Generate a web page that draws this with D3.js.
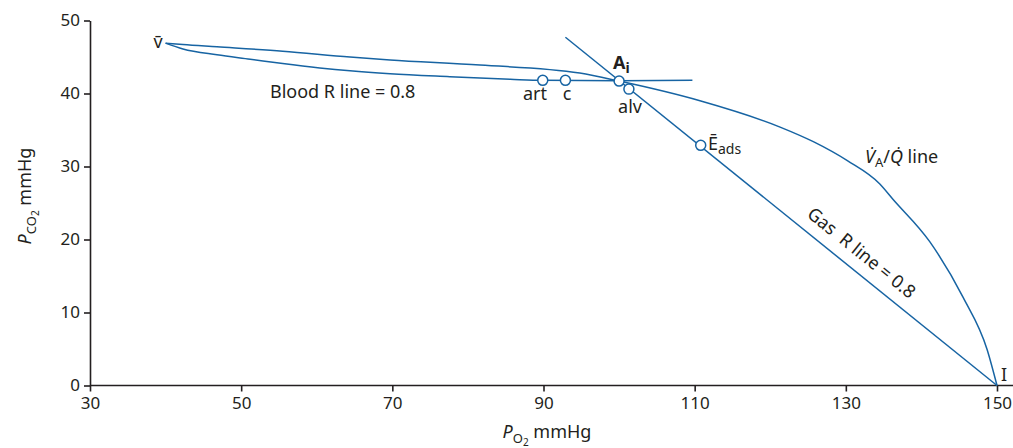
<!DOCTYPE html>
<html>
<head>
<meta charset="utf-8">
<script src="https://cdn.jsdelivr.net/npm/d3@7/dist/d3.min.js"></script>
<style>
  body { margin: 0; background: #fff; }
  svg text { font-family: "Noto Sans", sans-serif; fill: #231f20; }
</style>
</head>
<body>
<div class="chart"></div>
<script>
// ticks
const xTicks = [30, 50, 70, 90, 110, 130, 150];
const yTicks = [0, 10, 20, 30, 40, 50];

// blood R line (lower branch from mixed venous point, then flat through art / c / Ai)
const bloodRLine = [
  [40, 46.9], [42.3, 46.1], [46.8, 45.3], [51.2, 44.7], [55.5, 44.1], [60.4, 43.5],
  [64.4, 43.1], [69.7, 42.7], [77.6, 42.3], [85.6, 41.95], [89.9, 41.8], [100, 41.75], [109.7, 41.8]
];

// VA/Q line: upper branch from v-bar through Ai down to inspired point I
const vaqLine = [
  [40, 46.9], [42.3, 46.7], [46.8, 46.4], [55.5, 45.8], [64.4, 45.0], [69.7, 44.6],
  [81.6, 43.9], [94.8, 42.8], [100, 41.7], [110.7, 39.0], [121.3, 35.4], [125.7, 33.4],
  [130.2, 30.8], [134.5, 27.6], [136.2, 25.55], [141.1, 19.7],
  [145.5, 12.1], [148.7, 4.9], [150, 0]
];

// gas R line = 0.8 (straight through I and Ai)
const gasRLine = [[92.9, 47.7], [150, 0]];

// open circle markers
const pointNames = ["art", "c", "Ai", "alv", "Eads"];
const pointPO2 = [89.9, 92.9, 100, 101.3, 110.8];
const pointPCO2 = [41.8, 41.8, 41.7, 40.6, 32.9];

const svgWidth = 1013, svgHeight = 448;
const blue = "#1764a3";

const svg = d3.select(".chart").append("svg")
  .attr("width", svgWidth)
  .attr("height", svgHeight);

const x = d3.scaleLinear().domain([30, 150]).range([90, 997]);
const y = d3.scaleLinear().domain([0, 50]).range([385.5, 20.5]);

// axes
const xAxis = svg.append("g")
  .attr("transform", `translate(0, ${y(0)})`)
  .call(d3.axisBottom(x).tickValues(xTicks).tickSize(6).tickSizeOuter(0).tickPadding(5));
xAxis.select(".domain").attr("d", `M${x(30)},0H1013`);

const yAxis = svg.append("g")
  .attr("transform", `translate(${x(30)}, 0)`)
  .call(d3.axisLeft(y).tickValues(yTicks).tickSize(6).tickSizeOuter(0).tickPadding(4));

svg.selectAll(".tick text").attr("font-size", 17).attr("fill", "#231f20")
  .style("font-family", "'Noto Sans', sans-serif");
svg.selectAll(".domain, .tick line").attr("stroke", "#231f20").attr("stroke-width", 1.6);

// curves
const line = d3.line()
  .x(d => x(d[0]))
  .y(d => y(d[1]))
  .curve(d3.curveMonotoneX);

[bloodRLine, vaqLine, gasRLine].forEach(data => {
  svg.append("path")
    .datum(data)
    .attr("d", line)
    .attr("fill", "none")
    .attr("stroke", blue)
    .attr("stroke-width", 1.5);
});

// markers
svg.selectAll("circle.pt")
  .data(pointNames)
  .enter()
  .append("circle")
  .attr("class", "pt")
  .attr("cx", (d, i) => x(pointPO2[i]))
  .attr("cy", (d, i) => y(pointPCO2[i]))
  .attr("r", 5)
  .attr("fill", "#fff")
  .attr("stroke", blue)
  .attr("stroke-width", 1.5);

// labels
function label(tx, ty, str, anchor) {
  return svg.append("text")
    .attr("x", tx).attr("y", ty)
    .attr("font-size", 18)
    .attr("text-anchor", anchor || "start")
    .text(str);
}

label(158, 48, "v\u0304", "middle");
label(270, 98, "Blood R line = 0.8");
label(535, 100, "art", "middle");
label(567, 100, "c", "middle");
label(630, 113, "alv", "middle");
label(1001, 381, "I");

const ai = svg.append("text").attr("x", 613).attr("y", 69).attr("font-size", 18).attr("font-weight", "bold");
ai.append("tspan").text("A");
ai.append("tspan").attr("dy", 4).attr("font-size", 14).text("i");

const ea = svg.append("text").attr("x", 708).attr("y", 150).attr("font-size", 18);
ea.append("tspan").text("E\u0304");
ea.append("tspan").attr("dy", 4).attr("font-size", 14).text("ads");

const vq = svg.append("text").attr("x", 865).attr("y", 163).attr("font-size", 18);
vq.append("tspan").attr("font-style", "italic").text("V\u0307");
vq.append("tspan").attr("dy", 4).attr("font-size", 13).text("A");
vq.append("tspan").attr("dy", -4).text("/");
vq.append("tspan").attr("font-style", "italic").text("Q\u0307");
vq.append("tspan").text(" line");

// gas R line label, rotated along the line
const angle = Math.atan2(y(0) - y(47.7), x(150) - x(92.9)) * 180 / Math.PI;
const gx = 850, gy = y(0) - (x(150) - gx) * Math.tan(angle * Math.PI / 180);
const off = 12;
const gcx = gx + off * Math.sin(angle * Math.PI / 180);
const gcy = gy - off * Math.cos(angle * Math.PI / 180);
svg.append("text")
  .attr("transform", `translate(${gcx}, ${gcy}) rotate(${angle})`)
  .attr("text-anchor", "middle")
  .attr("font-size", 18)
  .attr("xml:space", "preserve")
  .text("Gas  R line = 0.8");

// axis titles
const xt = svg.append("text").attr("x", 547).attr("y", 438).attr("text-anchor", "middle").attr("font-size", 18);
xt.append("tspan").attr("font-style", "italic").text("P");
xt.append("tspan").attr("dy", 5).attr("font-size", 13).text("O");
xt.append("tspan").attr("dy", 3).attr("font-size", 10).text("2");
xt.append("tspan").attr("dy", -8).text(" mmHg");

const yt = svg.append("text")
  .attr("transform", "translate(31, 196) rotate(-90)")
  .attr("text-anchor", "middle").attr("font-size", 18);
yt.append("tspan").attr("font-style", "italic").text("P");
yt.append("tspan").attr("dy", 5).attr("font-size", 13).text("CO");
yt.append("tspan").attr("dy", 3).attr("font-size", 10).text("2");
yt.append("tspan").attr("dy", -8).text(" mmHg");
</script>
</body>
</html>
